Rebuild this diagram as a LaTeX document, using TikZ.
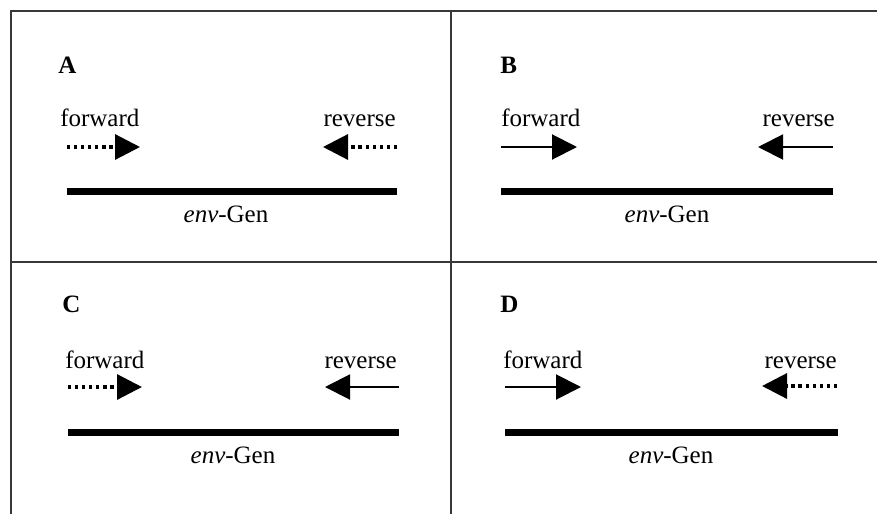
\documentclass[tikz,border=0pt]{standalone}
\usepackage{fontspec}
\setmainfont{Liberation Serif}
\usetikzlibrary{arrows.meta}
\begin{document}
\begin{tikzpicture}[x=0.75pt,y=-0.75pt,
  frame/.style={line width=1.5pt,draw=black!78},
  gene/.style={line width=5.25pt},
  primer/.style={line width=1.5pt,-{Triangle[length=18.75pt,width=18.75pt]}},
  dotprimer/.style={primer,line width=2.4pt,dash pattern=on 2.4pt off 2.9pt},
  every node/.style={inner sep=0pt,font=\fontsize{18.75}{22}\selectfont},
  panel/.style={anchor=base west,font=\fontsize{18.75}{22}\selectfont\bfseries},
  fwd/.style={anchor=base west},
  rev/.style={anchor=base east},
  genelabel/.style={anchor=base}]
\useasboundingbox (0,0) rectangle (877,514);

% grid of the four panels
\coordinate (tl) at (11,11);
\coordinate (tr) at (877,11);
\coordinate (bl) at (11,514);
\coordinate (mt) at (451,11);
\coordinate (mb) at (451,514);
\coordinate (ml) at (11,262);
\coordinate (mr) at (877,262);
\draw[frame] (bl) -- (tl) -- (tr);
\draw[frame] (mt) -- (mb);
\draw[frame] (ml) -- (mr);

% panel A: both primers dotted
\node[panel] (labA) at (58,73) {A};
\node[fwd] (fwdA) at (60,126) {forward};
\node[rev] (revA) at (396,126) {reverse};
\coordinate (fA1) at (67,147);  \coordinate (fA2) at (140,147);
\coordinate (rA1) at (397,147); \coordinate (rA2) at (323,147);
\draw[dotprimer] (fA1) -- (fA2);
\draw[dotprimer] (rA1) -- (rA2);
\coordinate (gA1) at (67,191);  \coordinate (gA2) at (397,191);
\draw[gene] (gA1) -- (gA2);
\node[genelabel] (envA) at (226,222) {\textit{env}-Gen};

% panel B: both primers solid
\node[panel] (labB) at (500,73) {B};
\node[fwd] (fwdB) at (501,126) {forward};
\node[rev] (revB) at (835,126) {reverse};
\coordinate (fB1) at (501,147); \coordinate (fB2) at (577,147);
\coordinate (rB1) at (833,147); \coordinate (rB2) at (758,147);
\draw[primer] (fB1) -- (fB2);
\draw[primer] (rB1) -- (rB2);
\coordinate (gB1) at (501,191); \coordinate (gB2) at (833,191);
\draw[gene] (gB1) -- (gB2);
\node[genelabel] (envB) at (667,222) {\textit{env}-Gen};

% panel C: dotted forward, solid reverse
\node[panel] (labC) at (62,312) {C};
\node[fwd] (fwdC) at (65,368) {forward};
\node[rev] (revC) at (397,368) {reverse};
\coordinate (fC1) at (68,387);  \coordinate (fC2) at (142,387);
\coordinate (rC1) at (399,387); \coordinate (rC2) at (325,387);
\draw[dotprimer] (fC1) -- (fC2);
\draw[primer] (rC1) -- (rC2);
\coordinate (gC1) at (68,432);  \coordinate (gC2) at (399,432);
\draw[gene] (gC1) -- (gC2);
\node[genelabel] (envC) at (233,463) {\textit{env}-Gen};

% panel D: solid forward, dotted reverse
\node[panel] (labD) at (500,312) {D};
\node[fwd] (fwdD) at (503,368) {forward};
\node[rev] (revD) at (837,368) {reverse};
\coordinate (fD1) at (505,387); \coordinate (fD2) at (581,387);
\coordinate (rD1) at (837,386); \coordinate (rD2) at (762,386);
\draw[primer] (fD1) -- (fD2);
\draw[dotprimer] (rD1) -- (rD2);
\coordinate (gD1) at (505,432); \coordinate (gD2) at (838,432);
\draw[gene] (gD1) -- (gD2);
\node[genelabel] (envD) at (671,463) {\textit{env}-Gen};
\end{tikzpicture}
\end{document}
